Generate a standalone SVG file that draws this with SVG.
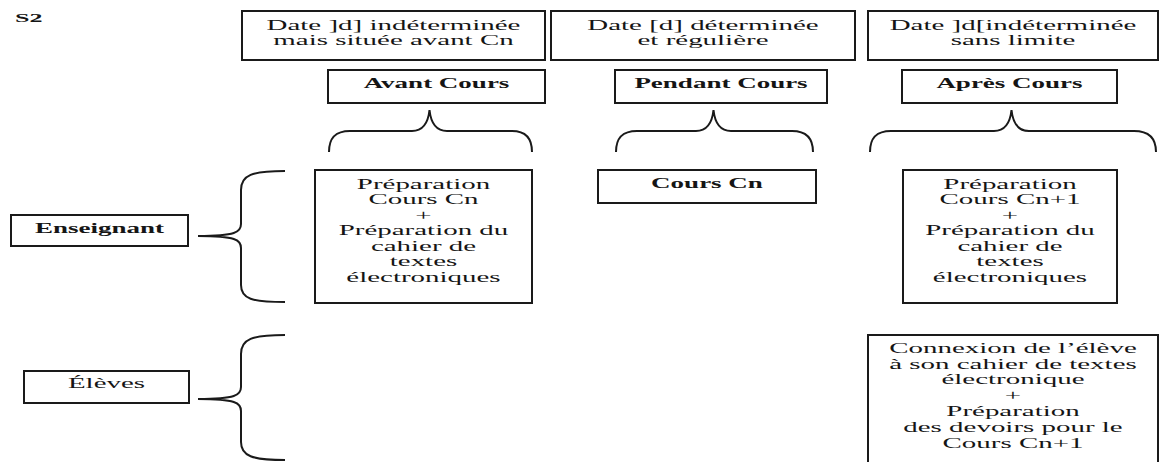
<svg xmlns="http://www.w3.org/2000/svg" width="1160" height="462" viewBox="0 0 1160 462">
<style>
.box{fill:#fff;stroke:#1a1a1a;stroke-width:2}
.br{fill:none;stroke:#1a1a1a;stroke-width:2}
.t{font-family:"Liberation Serif","Times New Roman",serif;font-size:15px;fill:#151515;text-anchor:middle}
.b{font-weight:bold;font-size:14px}
.s{font-family:"Liberation Serif","Times New Roman",serif;font-size:13.5px;font-weight:bold;fill:#151515}
</style>
<rect width="1160" height="462" fill="#fff"/>
<text class="s" transform="translate(15 0) scale(1.93 1)" x="0" y="22">S2</text>

<g id="date1">
<rect class="box" x="242" y="11" width="303" height="49"/>
<text class="t" transform="translate(393.5 0) scale(1.93 1)"><tspan x="0" y="30">Date ]d] indéterminée</tspan><tspan x="0" y="45">mais située avant Cn</tspan></text>
</g>
<g id="date2">
<rect class="box" x="551" y="11" width="304" height="49"/>
<text class="t" transform="translate(703 0) scale(1.93 1)"><tspan x="0" y="30">Date [d] déterminée</tspan><tspan x="0" y="45">et régulière</tspan></text>
</g>
<g id="date3">
<rect class="box" x="868" y="11" width="290" height="49"/>
<text class="t" transform="translate(1013 0) scale(1.93 1)"><tspan x="0" y="30">Date ]d[indéterminée</tspan><tspan x="0" y="45">sans limite</tspan></text>
</g>

<g id="avant">
<rect class="box" x="328" y="70" width="217" height="33"/>
<text class="t b" transform="translate(436.5 0) scale(1.93 1)" x="0" y="88">Avant Cours</text>
</g>
<g id="pendant">
<rect class="box" x="615" y="70" width="212" height="33"/>
<text class="t b" transform="translate(721 0) scale(1.93 1)" x="0" y="88">Pendant Cours</text>
</g>
<g id="apres">
<rect class="box" x="902" y="70" width="215" height="33"/>
<text class="t b" transform="translate(1009.5 0) scale(1.93 1)" x="0" y="88">Après Cours</text>
</g>

<g id="enseignant">
<rect class="box" x="11" y="215" width="177" height="31"/>
<text class="t b" transform="translate(99.5 0) scale(1.93 1)" x="0" y="233">Enseignant</text>
</g>
<g id="eleves">
<rect class="box" x="24" y="371" width="165" height="32"/>
<text class="t" transform="translate(106.5 0) scale(1.93 1)" x="0" y="388">Élèves</text>
</g>

<g id="prep1">
<rect class="box" x="315" y="170" width="217" height="133"/>
<text class="t" transform="translate(423.5 0) scale(1.93 1)"><tspan x="0" y="189">Préparation</tspan><tspan x="0" y="204.5">Cours Cn</tspan><tspan x="0" y="220">+</tspan><tspan x="0" y="235.5">Préparation du</tspan><tspan x="0" y="251">cahier de</tspan><tspan x="0" y="266.5">textes</tspan><tspan x="0" y="282">électroniques</tspan></text>
</g>
<g id="coursCn">
<rect class="box" x="598" y="170" width="218" height="33"/>
<text class="t b" transform="translate(707 0) scale(1.93 1)" x="0" y="188">Cours Cn</text>
</g>
<g id="prep3">
<rect class="box" x="903" y="170" width="214" height="133"/>
<text class="t" transform="translate(1010 0) scale(1.93 1)"><tspan x="0" y="189">Préparation</tspan><tspan x="0" y="204.5">Cours Cn+1</tspan><tspan x="0" y="220">+</tspan><tspan x="0" y="235.5">Préparation du</tspan><tspan x="0" y="251">cahier de</tspan><tspan x="0" y="266.5">textes</tspan><tspan x="0" y="282">électroniques</tspan></text>
</g>
<g id="connexion">
<rect class="box" x="868" y="335" width="290" height="140"/>
<text class="t" transform="translate(1013 0) scale(1.93 1)"><tspan x="0" y="353">Connexion de l’élève</tspan><tspan x="0" y="369">à son cahier de textes</tspan><tspan x="0" y="384.5">électronique</tspan><tspan x="0" y="400">+</tspan><tspan x="0" y="416">Préparation</tspan><tspan x="0" y="432">des devoirs pour le</tspan><tspan x="0" y="448">Cours Cn+1</tspan></text>
</g>

<g id="connectors">
<path class="br" d="M329,152 C329,138 335,131 350,131 L412,131 C422,131 428,124 429.5,110 C431,124 437,131 447,131 L512,131 C526,131 532,138 532,152"/>
<path class="br" d="M616,152 C616,138 622,131 637,131 L696,131 C706,131 712,124 713.5,110 C715,124 721,131 731,131 L792,131 C806,131 813,138 813,152"/>
<path class="br" d="M870,152 C870,138 876,131 891,131 L994,131 C1004,131 1010,124 1011.5,110 C1013,124 1019,131 1029,131 L1134,131 C1148,131 1156,138 1156,152"/>
<path class="br" d="M285,171 C252,171 241,175 241,190 L241,224 C241,232 236,236 198,236 C236,236 241,240 241,248 L241,285 C241,299 252,302 285,302"/>
<path class="br" d="M285,335 C252,335 241,339 241,354 L241,387 C241,395 236,399 198,399 C236,399 241,403 241,411 L241,442 C241,456 252,460 285,460"/>
</g>
</svg>
